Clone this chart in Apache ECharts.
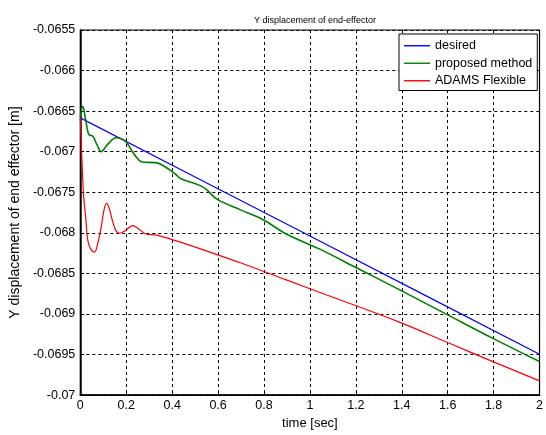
<!DOCTYPE html>
<html>
<head>
<meta charset="utf-8">
<script src="https://cdn.jsdelivr.net/npm/echarts@6/dist/echarts.min.js"></script>
<style>
html,body{margin:0;padding:0;background:#fff;}
#c{width:546px;height:435px;}
</style>
</head>
<body>
<div id="c"></div>
<script>
// ---- data ----
const desiredT = [0, 0.5, 1, 1.5, 2];
const desiredV = [-0.066583, -0.067311, -0.06804, -0.068768, -0.069497];

const proposedT = [0, 0.011, 0.023, 0.037, 0.054, 0.072, 0.091, 0.119, 0.156, 0.196, 0.235, 0.27, 0.328, 0.364, 0.415, 0.436, 0.537, 0.595, 0.7, 0.796, 0.897, 1.041, 1.2, 1.387, 1.6, 1.797, 2];
const proposedV = [-0.066575, -0.06644, -0.0666, -0.066787, -0.066808, -0.06691, -0.067, -0.06691, -0.066828, -0.06687, -0.067033, -0.067127, -0.067135, -0.067176, -0.067278, -0.06733, -0.06744, -0.067585, -0.06772, -0.067838, -0.068014, -0.068198, -0.068427, -0.068697, -0.069011, -0.069301, -0.069587];

const adamsT = [0, 0.005, 0.014, 0.024, 0.033, 0.045, 0.062, 0.077, 0.091, 0.104, 0.115, 0.127, 0.14, 0.155, 0.17, 0.196, 0.227, 0.255, 0.285, 0.328, 0.415, 0.523, 0.7, 0.9, 1.1, 1.387, 1.6, 1.797, 2];
const adamsV = [-0.06658, -0.06695, -0.067523, -0.06783, -0.068096, -0.068198, -0.068238, -0.068116, -0.067932, -0.067707, -0.067637, -0.067707, -0.06785, -0.067973, -0.068005, -0.067973, -0.06791, -0.067952, -0.068014, -0.068026, -0.068096, -0.068197, -0.068372, -0.068583, -0.068794, -0.069097, -0.069352, -0.069587, -0.069824];

const seriesNames = ['desired', 'proposed method', 'ADAMS Flexible'];
const titleText = 'Y displacement of end-effector';
const xName = 'time [sec]';
const yName = 'Y displacement of end effector [m]';

function pairs(t, v) { return t.map((x, i) => [x, v[i]]); }

const FONT = 'Liberation Sans, Arial, sans-serif';
const chart = echarts.init(document.getElementById('c'), null, {renderer: 'canvas'});
chart.setOption({
  animation: false,
  backgroundColor: '#fff',
  title: {
    text: titleText,
    left: 310, top: 11, textAlign: 'center',
    textStyle: {fontFamily: FONT, fontSize: 9, fontWeight: 'normal', color: '#000'}
  },
  grid: {
    left: 79, right: 4, top: 30, bottom: 38,
    show: true, borderColor: '#000', borderWidth: 1.2, backgroundColor: '#fff'
  },
  legend: {
    orient: 'vertical', left: 399, top: 34,
    padding: [5, 5, 3, 5],
    icon: 'rect',
    itemWidth: 26, itemHeight: 1.4, itemGap: 4,
    borderColor: '#000', borderWidth: 1, backgroundColor: '#fff',
    textStyle: {fontFamily: FONT, fontSize: 12.5, color: '#000', lineHeight: 13.5},
    data: seriesNames
  },
  xAxis: {
    type: 'value', min: 0, max: 2, interval: 0.2,
    name: xName, nameLocation: 'middle', nameGap: 18,
    nameTextStyle: {fontFamily: FONT, fontSize: 13, color: '#000'},
    axisLine: {show: true, lineStyle: {color: '#000', width: 1.5}},
    axisTick: {show: true, inside: true, length: 4, lineStyle: {color: '#000'}},
    axisLabel: {fontFamily: FONT, fontSize: 12.5, color: '#000', margin: 4,
      showMinLabel: true, showMaxLabel: true,
      formatter: v => String(parseFloat(v.toFixed(1)))},
    splitLine: {show: true, lineStyle: {color: '#000', type: [3, 3], width: 1}}
  },
  yAxis: {
    type: 'value', min: -0.07, max: -0.0655, interval: 0.0005,
    name: yName, nameLocation: 'middle', nameGap: 46, nameRotate: 90,
    nameTextStyle: {fontFamily: FONT, fontSize: 14, color: '#000'},
    axisLine: {show: true, lineStyle: {color: '#000', width: 1.5}},
    axisTick: {show: true, inside: true, length: 4, lineStyle: {color: '#000'}},
    axisLabel: {fontFamily: FONT, fontSize: 12.5, color: '#000', margin: 5,
      showMinLabel: true, showMaxLabel: true,
      formatter: v => String(parseFloat(v.toFixed(4)))},
    splitLine: {show: true, lineStyle: {color: '#000', type: [3, 3], width: 1}}
  },
  series: [
    {name: seriesNames[0], type: 'line', data: pairs(desiredT, desiredV),
     symbol: 'none', lineStyle: {color: '#0000ff', width: 1.2}, itemStyle: {color: '#0000ff'}},
    {name: seriesNames[1], type: 'line', data: pairs(proposedT, proposedV), smooth: 0.35,
     symbol: 'none', lineStyle: {color: '#008000', width: 1.6}, itemStyle: {color: '#008000'}},
    {name: seriesNames[2], type: 'line', data: pairs(adamsT, adamsV), smooth: 0.35,
     symbol: 'none', lineStyle: {color: '#ff0000', width: 1.2}, itemStyle: {color: '#ff0000'}}
  ]
});
</script>
</body>
</html>
